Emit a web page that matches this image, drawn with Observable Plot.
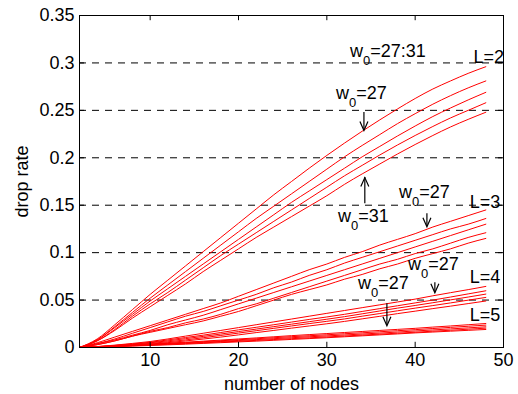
<!DOCTYPE html>
<html>
<head>
<meta charset="utf-8">
<script src="https://cdn.jsdelivr.net/npm/d3@7"></script>
<script src="https://cdn.jsdelivr.net/npm/@observablehq/plot@0.6"></script>
<style>
  html, body { margin: 0; padding: 0; background: #fff; }
  #chart { width: 518px; height: 394px; }
</style>
</head>
<body>
<div id="chart"></div>
<script>
// ---- data ----
const nodes = [2,4,6,8,10,12,14,16,18,20,22,24,26,28,30,32,34,36,38,40,42,44,46,48];

// L = 2, w0 = 27 ... 31
const L2_w27 = [0,0.009,0.024,0.040,0.056,0.071,0.086,0.101,0.116,0.131,0.146,0.161,0.175,0.189,0.2025,0.2155,0.228,0.240,0.2515,0.2625,0.2725,0.281,0.289,0.296];
const L2_w28 = [0,0.008,0.022,0.037,0.052,0.066,0.080,0.094,0.108,0.122,0.136,0.149,0.162,0.175,0.188,0.201,0.213,0.2245,0.236,0.2465,0.2565,0.2655,0.2737,0.281];
const L2_w29 = [0,0.008,0.021,0.035,0.049,0.062,0.075,0.088,0.101,0.114,0.127,0.140,0.153,0.165,0.177,0.189,0.201,0.212,0.223,0.2335,0.2435,0.2525,0.261,0.269];
const L2_w30 = [0,0.007,0.019,0.033,0.046,0.058,0.071,0.084,0.097,0.109,0.121,0.133,0.145,0.157,0.169,0.181,0.192,0.203,0.2135,0.2235,0.233,0.242,0.250,0.258];
const L2_w31 = [0,0.007,0.018,0.031,0.043,0.055,0.067,0.080,0.092,0.104,0.116,0.127,0.138,0.149,0.160,0.172,0.183,0.1935,0.204,0.214,0.2235,0.2325,0.2405,0.248];

// L = 3
const L3_w27 = [0,0.005,0.011,0.017,0.023,0.029,0.035,0.041,0.047,0.054,0.061,0.068,0.075,0.082,0.088,0.095,0.101,0.108,0.114,0.120,0.127,0.133,0.139,0.145];
const L3_w28 = [0,0.004,0.009,0.015,0.021,0.027,0.033,0.038,0.044,0.050,0.056,0.063,0.069,0.076,0.082,0.089,0.095,0.101,0.107,0.113,0.119,0.125,0.130,0.136];
const L3_w29 = [0,0.004,0.008,0.013,0.018,0.024,0.029,0.034,0.040,0.046,0.052,0.058,0.064,0.070,0.076,0.082,0.088,0.094,0.100,0.106,0.112,0.118,0.124,0.130];
const L3_w30 = [0,0.003,0.007,0.012,0.017,0.021,0.026,0.030,0.035,0.041,0.046,0.052,0.058,0.064,0.070,0.076,0.082,0.088,0.093,0.099,0.104,0.110,0.116,0.121];
const L3_w31 = [0,0.003,0.007,0.012,0.016,0.020,0.024,0.028,0.033,0.038,0.044,0.050,0.056,0.061,0.066,0.072,0.077,0.083,0.088,0.094,0.099,0.104,0.110,0.115];

// L = 4
const L4_w27 = [0,0.0010,0.0025,0.0043,0.0063,0.0090,0.0120,0.0150,0.0180,0.0210,0.0240,0.0270,0.0300,0.0330,0.0360,0.0390,0.0420,0.0450,0.0480,0.0510,0.0545,0.0578,0.0610,0.0644];
const L4_w28 = [0,0.0009,0.0022,0.0038,0.0055,0.0080,0.0105,0.0130,0.0158,0.0186,0.0213,0.0240,0.0268,0.0296,0.0322,0.0350,0.0380,0.0410,0.0440,0.0470,0.0500,0.0532,0.0565,0.0598];
const L4_w29 = [0,0.0008,0.0020,0.0034,0.0050,0.0070,0.0093,0.0117,0.0142,0.0168,0.0194,0.0220,0.0246,0.0272,0.0298,0.0325,0.0355,0.0385,0.0415,0.0443,0.0472,0.0502,0.0532,0.0563];
const L4_w30 = [0,0.0007,0.0018,0.0030,0.0043,0.0060,0.0080,0.0103,0.0127,0.0152,0.0177,0.0202,0.0227,0.0252,0.0276,0.0301,0.0330,0.0358,0.0387,0.0415,0.0442,0.0470,0.0499,0.0528];
const L4_w31 = [0,0.0005,0.0014,0.0025,0.0036,0.0051,0.0069,0.0089,0.0110,0.0133,0.0157,0.0180,0.0204,0.0227,0.0250,0.0275,0.0302,0.0329,0.0357,0.0383,0.0410,0.0436,0.0463,0.0490];

// L = 5
const L5_w27 = [0,0.0006,0.0014,0.0024,0.0035,0.0045,0.0056,0.0067,0.0078,0.0090,0.0101,0.0113,0.0125,0.0136,0.0147,0.0158,0.0169,0.0180,0.0191,0.0202,0.0215,0.0227,0.0240,0.0253];
const L5_w28 = [0,0.0005,0.0013,0.0022,0.0032,0.0041,0.0051,0.0061,0.0071,0.0082,0.0092,0.0103,0.0114,0.0124,0.0134,0.0145,0.0155,0.0166,0.0177,0.0188,0.0200,0.0212,0.0224,0.0236];
const L5_w29 = [0,0.0005,0.0012,0.0020,0.0029,0.0037,0.0046,0.0055,0.0064,0.0074,0.0083,0.0093,0.0103,0.0113,0.0122,0.0132,0.0142,0.0152,0.0163,0.0174,0.0185,0.0196,0.0207,0.0218];
const L5_w30 = [0,0.0004,0.0011,0.0018,0.0026,0.0033,0.0041,0.0049,0.0058,0.0066,0.0075,0.0084,0.0093,0.0102,0.0111,0.0121,0.0131,0.0141,0.0151,0.0161,0.0172,0.0182,0.0193,0.0204];
const L5_w31 = [0,0.0004,0.0009,0.0015,0.0021,0.0028,0.0035,0.0043,0.0051,0.0059,0.0067,0.0076,0.0085,0.0094,0.0103,0.0113,0.0123,0.0133,0.0143,0.0154,0.0163,0.0172,0.0181,0.0190];

const xTicks = [10, 20, 30, 40, 50];
const yTicks = [0, 0.05, 0.1, 0.15, 0.2, 0.25, 0.3, 0.35];
const gridValues = [0.05, 0.1, 0.15, 0.2, 0.25, 0.3];
const xLabel = "number of nodes";
const yLabel = "drop rate";

// annotation labels (data coordinates of the text baseline start)
const annText = ["w0=27:31", "w0=27", "w0=31", "w0=27", "w0=27", "w0=27", "L=2", "L=3", "L=4", "L=5"];
const annX    = [32.62, 31.04, 31.27, 38.16, 39.18, 33.53, 46.6, 46.18, 46.18, 46.18];
const annY    = [0.3067, 0.2624, 0.1326, 0.158, 0.082, 0.0619, 0.2995, 0.1474, 0.0683, 0.0283];
// arrows: shaft from y1 to tip y2
const arrX  = [34.2, 34.3, 41.33, 42.23, 36.8];
const arrY1 = [0.2477, 0.1516, 0.1411, 0.0683, 0.0461];
const arrY2 = [0.2287, 0.1791, 0.1274, 0.0577, 0.0230];

// ---- build tables ----
const seriesList = [
  ["L2_w27", L2_w27], ["L2_w28", L2_w28], ["L2_w29", L2_w29], ["L2_w30", L2_w30], ["L2_w31", L2_w31],
  ["L3_w27", L3_w27], ["L3_w28", L3_w28], ["L3_w29", L3_w29], ["L3_w30", L3_w30], ["L3_w31", L3_w31],
  ["L4_w27", L4_w27], ["L4_w28", L4_w28], ["L4_w29", L4_w29], ["L4_w30", L4_w30], ["L4_w31", L4_w31],
  ["L5_w27", L5_w27], ["L5_w28", L5_w28], ["L5_w29", L5_w29], ["L5_w30", L5_w30], ["L5_w31", L5_w31]
];
const rows = [];
for (const [name, vals] of seriesList) {
  vals.forEach((v, i) => rows.push({series: name, x: nodes[i], y: v}));
}
const ann = annText.map((t, i) => ({t, x: annX[i], y: annY[i]}));
const arrows = arrX.map((x, i) => ({x, y1: arrY1[i], y2: arrY2[i], down: arrY2[i] < arrY1[i]}));

// open V arrowheads as custom dot symbols
const headDown = {draw(ctx) { ctx.moveTo(-4, -9); ctx.lineTo(0, 0); ctx.lineTo(4, -9); }};
const headUp   = {draw(ctx) { ctx.moveTo(-4, 9); ctx.lineTo(0, 0); ctx.lineTo(4, 9); }};

const xDomain = [2, 50];
const yDomain = [0, 0.35];
const tickLenX = 0.565;   // inward tick length in x units
const tickLenY = 0.0055;  // inward tick length in y units

const chart = Plot.plot({
  width: 518,
  height: 394,
  marginLeft: 79,
  marginRight: 15,
  marginTop: 15,
  marginBottom: 47,
  style: {fontFamily: "'Liberation Sans', Arial, sans-serif", fontSize: "18px", color: "#000", background: "#fff"},
  x: {domain: xDomain, label: null},
  y: {domain: yDomain, label: null},
  marks: [
    Plot.ruleY(gridValues, {y: d => d, stroke: "#000", strokeWidth: 1, strokeDasharray: "7,6"}),
    Plot.line(rows, {x: "x", y: "y", z: "series", stroke: "#ff0000", strokeWidth: 1, curve: "monotone-x"}),
    Plot.ruleX(xTicks, {x: d => d, y1: 0, y2: tickLenY, stroke: "#000"}),
    Plot.ruleX(xTicks, {x: d => d, y1: yDomain[1], y2: yDomain[1] - tickLenY, stroke: "#000"}),
    Plot.ruleY(yTicks, {y: d => d, x1: xDomain[0], x2: xDomain[0] + tickLenX, stroke: "#000"}),
    Plot.ruleY(yTicks, {y: d => d, x1: xDomain[1], x2: xDomain[1] - tickLenX, stroke: "#000"}),
    Plot.frame({stroke: "#000"}),
    Plot.axisX(xTicks, {tickSize: 0, tickPadding: 6, fontSize: 18}),
    Plot.axisY(yTicks, {tickSize: 0, tickPadding: 5, fontSize: 18, tickFormat: d => String(+d.toFixed(2))}),
    Plot.text([xLabel], {frameAnchor: "bottom", text: d => d, lineAnchor: "bottom", dy: 42, fontSize: 18}),
    Plot.text([yLabel], {frameAnchor: "left", text: d => d, rotate: -90, textAnchor: "middle", lineAnchor: "middle", dx: -57, fontSize: 18}),
    Plot.ruleX(arrows, {x: "x", y1: "y1", y2: "y2", stroke: "#000", strokeWidth: 1.2}),
    Plot.dot(arrows.filter(d => d.down), {x: "x", y: "y2", symbol: headDown, r: 4, fill: "none", stroke: "#000", strokeWidth: 1.2}),
    Plot.dot(arrows.filter(d => !d.down), {x: "x", y: "y2", symbol: headUp, r: 4, fill: "none", stroke: "#000", strokeWidth: 1.2}),
    Plot.text(ann, {x: "x", y: "y", text: "t", textAnchor: "start", lineAnchor: "bottom", fontSize: 18, fill: "#000", className: "ann"})
  ]
});

// subscript the "0" in w0
d3.select(chart).selectAll(".ann text").each(function() {
  const el = d3.select(this);
  const s = el.text();
  if (s.startsWith("w0")) {
    el.text("");
    el.append("tspan").text("w");
    el.append("tspan").attr("dy", "8").attr("font-size", "13px").text("0");
    el.append("tspan").attr("dy", "-8").text(s.slice(2));
  }
});

document.getElementById("chart").appendChild(chart);
</script>
</body>
</html>
